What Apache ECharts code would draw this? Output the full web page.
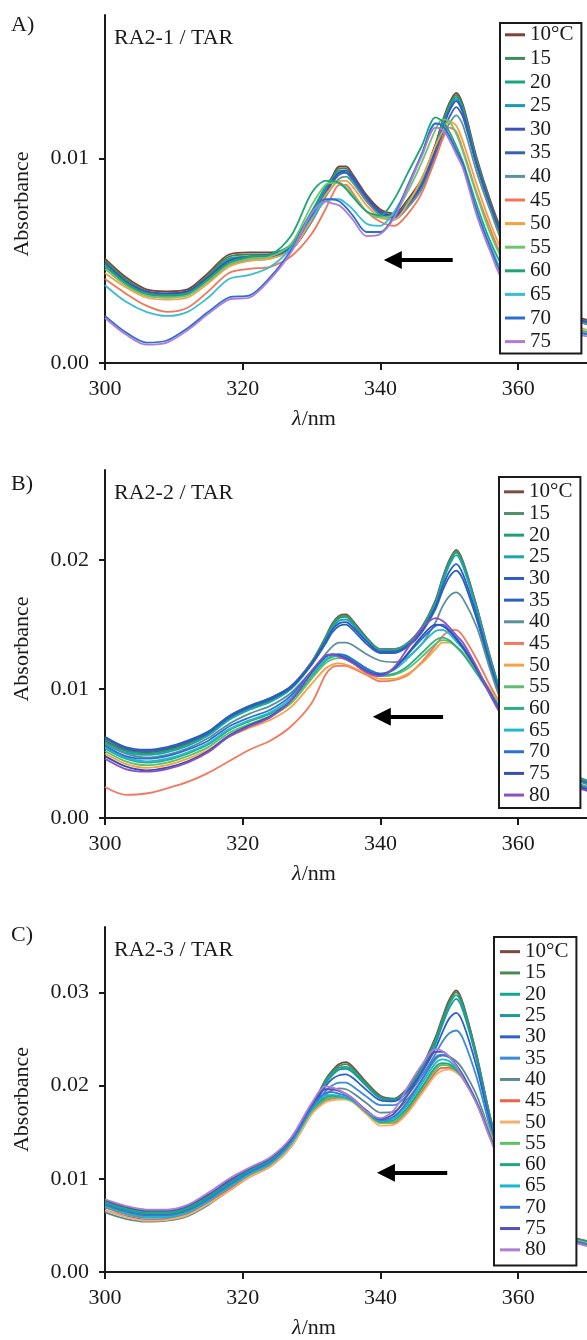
<!DOCTYPE html>
<html><head><meta charset="utf-8">
<script src="https://cdn.jsdelivr.net/npm/echarts@6/dist/echarts.min.js"></script>
<style>html,body{margin:0;padding:0;background:#fff;}#c{width:587px;height:1340px;}</style>
</head><body><div id="c"></div>
<script>
// wavelength grid (nm)
const wavelengths = [300,303,306,309,312,315,318,321,324,327,330,332,333,334,335,336,338,340,342,344,346,348,349,350,351,352,354,356,358,364,370];

const tempsA = ['10°C','15','20','25','30','35','40','45','50','55','60','65','70','75'];
const tempsB = ['10°C','15','20','25','30','35','40','45','50','55','60','65','70','75','80'];
const tempsC = ['10°C','15','20','25','30','35','40','45','50','55','60','65','70','75','80'];

// Panel A: RA2-1 / TAR  (one row per temperature)
const absA = [
 [0.0051,0.0042,0.0036,0.0035,0.0036,0.0044,0.0053,0.0054,0.0054,0.0057,0.0072,0.0085,0.0091,0.0096,0.0096,0.0092,0.0082,0.0075,0.0073,0.0080,0.0090,0.0107,0.0118,0.0127,0.0132,0.0126,0.0100,0.0079,0.0062,0.0030,0.0021],
 [0.0050,0.0041,0.0035,0.0034,0.0035,0.0043,0.0052,0.0053,0.0053,0.0057,0.0072,0.0085,0.0090,0.0095,0.0095,0.0091,0.0081,0.0074,0.0072,0.0079,0.0089,0.0106,0.0117,0.0126,0.0131,0.0125,0.0099,0.0078,0.0061,0.0029,0.0020],
 [0.0049,0.0040,0.0034,0.0033,0.0035,0.0042,0.0051,0.0052,0.0053,0.0058,0.0074,0.0086,0.0090,0.0094,0.0093,0.0089,0.0079,0.0073,0.0072,0.0079,0.0089,0.0106,0.0116,0.0125,0.0130,0.0124,0.0098,0.0077,0.0060,0.0029,0.0020],
 [0.0048,0.0040,0.0034,0.0033,0.0034,0.0041,0.0050,0.0052,0.0052,0.0057,0.0073,0.0085,0.0089,0.0093,0.0093,0.0089,0.0079,0.0073,0.0072,0.0078,0.0088,0.0105,0.0115,0.0124,0.0129,0.0123,0.0097,0.0076,0.0059,0.0028,0.0019],
 [0.0049,0.0040,0.0035,0.0034,0.0035,0.0042,0.0050,0.0052,0.0053,0.0056,0.0070,0.0083,0.0089,0.0093,0.0094,0.0091,0.0081,0.0074,0.0072,0.0078,0.0087,0.0104,0.0114,0.0123,0.0128,0.0122,0.0097,0.0077,0.0060,0.0029,0.0020],
 [0.0048,0.0039,0.0034,0.0033,0.0034,0.0041,0.0049,0.0051,0.0052,0.0055,0.0069,0.0082,0.0088,0.0092,0.0093,0.0090,0.0080,0.0073,0.0071,0.0077,0.0086,0.0102,0.0112,0.0120,0.0125,0.0120,0.0096,0.0076,0.0059,0.0028,0.0019],
 [0.0047,0.0039,0.0033,0.0032,0.0034,0.0040,0.0048,0.0050,0.0051,0.0055,0.0069,0.0081,0.0086,0.0090,0.0091,0.0088,0.0079,0.0072,0.0070,0.0076,0.0085,0.0100,0.0110,0.0117,0.0121,0.0116,0.0093,0.0074,0.0057,0.0027,0.0019],
 [0.0041,0.0034,0.0028,0.0025,0.0027,0.0035,0.0044,0.0046,0.0047,0.0052,0.0063,0.0075,0.0082,0.0087,0.0087,0.0083,0.0074,0.0069,0.0067,0.0073,0.0083,0.0100,0.0109,0.0115,0.0113,0.0104,0.0083,0.0065,0.0050,0.0024,0.0014],
 [0.0044,0.0037,0.0032,0.0031,0.0032,0.0039,0.0047,0.0050,0.0051,0.0055,0.0070,0.0082,0.0086,0.0089,0.0089,0.0086,0.0077,0.0071,0.0070,0.0078,0.0090,0.0106,0.0113,0.0118,0.0116,0.0108,0.0087,0.0068,0.0053,0.0026,0.0016],
 [0.0046,0.0038,0.0033,0.0032,0.0033,0.0040,0.0048,0.0051,0.0052,0.0058,0.0077,0.0087,0.0088,0.0088,0.0086,0.0082,0.0074,0.0071,0.0073,0.0084,0.0098,0.0114,0.0119,0.0118,0.0112,0.0103,0.0082,0.0063,0.0049,0.0023,0.0015],
 [0.0048,0.0039,0.0034,0.0033,0.0034,0.0041,0.0049,0.0052,0.0053,0.0062,0.0083,0.0089,0.0089,0.0088,0.0085,0.0081,0.0074,0.0072,0.0080,0.0093,0.0106,0.0120,0.0118,0.0113,0.0106,0.0098,0.0077,0.0059,0.0046,0.0022,0.0015],
 [0.0038,0.0030,0.0025,0.0023,0.0025,0.0032,0.0041,0.0043,0.0047,0.0056,0.0071,0.0079,0.0080,0.0080,0.0078,0.0075,0.0068,0.0067,0.0074,0.0086,0.0102,0.0117,0.0116,0.0110,0.0103,0.0096,0.0075,0.0057,0.0043,0.0021,0.0015],
 [0.0023,0.0015,0.0010,0.0011,0.0017,0.0025,0.0032,0.0033,0.0042,0.0055,0.0072,0.0080,0.0080,0.0079,0.0076,0.0072,0.0064,0.0064,0.0072,0.0087,0.0102,0.0117,0.0116,0.0111,0.0104,0.0097,0.0074,0.0056,0.0041,0.0020,0.0014],
 [0.0022,0.0014,0.0009,0.0010,0.0016,0.0024,0.0031,0.0032,0.0041,0.0054,0.0073,0.0079,0.0078,0.0077,0.0074,0.0070,0.0062,0.0063,0.0071,0.0086,0.0101,0.0115,0.0114,0.0109,0.0102,0.0095,0.0072,0.0054,0.0039,0.0019,0.0013]
];

// Panel B: RA2-2 / TAR
const absB = [
 [0.0060,0.0053,0.0051,0.0053,0.0058,0.0066,0.0078,0.0086,0.0092,0.0102,0.0121,0.0140,0.0151,0.0157,0.0158,0.0153,0.0140,0.0131,0.0131,0.0136,0.0148,0.0169,0.0186,0.0200,0.0208,0.0199,0.0164,0.0124,0.0092,0.0045,0.0029],
 [0.0061,0.0054,0.0052,0.0054,0.0059,0.0067,0.0079,0.0087,0.0093,0.0102,0.0121,0.0140,0.0150,0.0156,0.0157,0.0152,0.0139,0.0131,0.0131,0.0136,0.0148,0.0168,0.0185,0.0199,0.0207,0.0198,0.0163,0.0123,0.0092,0.0045,0.0029],
 [0.0059,0.0052,0.0050,0.0052,0.0057,0.0065,0.0077,0.0085,0.0091,0.0101,0.0120,0.0139,0.0149,0.0155,0.0156,0.0151,0.0139,0.0130,0.0130,0.0135,0.0147,0.0167,0.0184,0.0198,0.0206,0.0197,0.0162,0.0122,0.0091,0.0044,0.0028],
 [0.0058,0.0051,0.0049,0.0051,0.0056,0.0064,0.0076,0.0084,0.0090,0.0100,0.0119,0.0137,0.0147,0.0153,0.0154,0.0150,0.0138,0.0130,0.0130,0.0135,0.0146,0.0166,0.0182,0.0196,0.0204,0.0195,0.0161,0.0122,0.0091,0.0044,0.0028],
 [0.0063,0.0055,0.0053,0.0055,0.0060,0.0067,0.0079,0.0087,0.0093,0.0102,0.0120,0.0137,0.0146,0.0151,0.0152,0.0148,0.0137,0.0129,0.0129,0.0134,0.0145,0.0164,0.0179,0.0191,0.0197,0.0189,0.0157,0.0119,0.0089,0.0043,0.0027],
 [0.0062,0.0054,0.0052,0.0054,0.0059,0.0066,0.0078,0.0086,0.0092,0.0101,0.0119,0.0135,0.0144,0.0149,0.0150,0.0146,0.0135,0.0128,0.0128,0.0133,0.0144,0.0162,0.0176,0.0187,0.0192,0.0185,0.0154,0.0117,0.0088,0.0043,0.0027],
 [0.0057,0.0050,0.0047,0.0049,0.0054,0.0062,0.0073,0.0081,0.0087,0.0097,0.0114,0.0127,0.0133,0.0136,0.0136,0.0134,0.0127,0.0122,0.0121,0.0125,0.0135,0.0152,0.0164,0.0172,0.0175,0.0170,0.0148,0.0114,0.0086,0.0042,0.0026],
 [0.0024,0.0018,0.0019,0.0023,0.0028,0.0035,0.0044,0.0053,0.0060,0.0071,0.0089,0.0111,0.0117,0.0118,0.0118,0.0116,0.0111,0.0106,0.0107,0.0111,0.0121,0.0134,0.0141,0.0145,0.0146,0.0141,0.0123,0.0102,0.0084,0.0040,0.0024],
 [0.0050,0.0042,0.0039,0.0041,0.0046,0.0053,0.0063,0.0070,0.0076,0.0086,0.0104,0.0116,0.0119,0.0120,0.0119,0.0117,0.0112,0.0108,0.0108,0.0112,0.0120,0.0131,0.0136,0.0136,0.0133,0.0128,0.0114,0.0099,0.0084,0.0040,0.0024],
 [0.0052,0.0044,0.0041,0.0043,0.0048,0.0055,0.0066,0.0073,0.0079,0.0089,0.0108,0.0120,0.0123,0.0124,0.0123,0.0120,0.0114,0.0110,0.0111,0.0116,0.0125,0.0135,0.0138,0.0137,0.0133,0.0128,0.0113,0.0097,0.0082,0.0039,0.0024],
 [0.0054,0.0046,0.0043,0.0045,0.0050,0.0057,0.0068,0.0075,0.0081,0.0091,0.0110,0.0122,0.0125,0.0126,0.0125,0.0122,0.0115,0.0111,0.0112,0.0118,0.0128,0.0138,0.0140,0.0138,0.0133,0.0127,0.0112,0.0096,0.0081,0.0039,0.0024],
 [0.0055,0.0047,0.0044,0.0046,0.0051,0.0058,0.0069,0.0076,0.0082,0.0093,0.0112,0.0123,0.0126,0.0127,0.0126,0.0123,0.0116,0.0112,0.0115,0.0124,0.0135,0.0145,0.0146,0.0143,0.0137,0.0131,0.0115,0.0097,0.0080,0.0038,0.0023],
 [0.0056,0.0048,0.0046,0.0048,0.0053,0.0060,0.0071,0.0078,0.0084,0.0095,0.0114,0.0125,0.0127,0.0127,0.0126,0.0123,0.0116,0.0112,0.0116,0.0127,0.0139,0.0149,0.0150,0.0146,0.0140,0.0133,0.0116,0.0097,0.0079,0.0037,0.0023],
 [0.0048,0.0040,0.0037,0.0039,0.0044,0.0052,0.0064,0.0072,0.0079,0.0091,0.0113,0.0125,0.0127,0.0126,0.0124,0.0121,0.0114,0.0111,0.0116,0.0128,0.0141,0.0150,0.0149,0.0145,0.0139,0.0132,0.0115,0.0095,0.0077,0.0036,0.0022],
 [0.0046,0.0038,0.0036,0.0038,0.0043,0.0051,0.0063,0.0071,0.0078,0.0091,0.0114,0.0126,0.0127,0.0125,0.0123,0.0120,0.0113,0.0110,0.0117,0.0132,0.0147,0.0155,0.0153,0.0148,0.0142,0.0136,0.0117,0.0095,0.0076,0.0035,0.0021]
];

// Panel C: RA2-3 / TAR
const absC = [
 [0.0075,0.0068,0.0064,0.0064,0.0069,0.0081,0.0096,0.0109,0.0120,0.0141,0.0177,0.0206,0.0216,0.0223,0.0225,0.0220,0.0203,0.0189,0.0186,0.0198,0.0220,0.0252,0.0273,0.0292,0.0302,0.0288,0.0232,0.0165,0.0115,0.0050,0.0033],
 [0.0076,0.0069,0.0065,0.0065,0.0070,0.0082,0.0097,0.0110,0.0121,0.0142,0.0177,0.0205,0.0215,0.0221,0.0223,0.0218,0.0202,0.0188,0.0185,0.0197,0.0219,0.0250,0.0271,0.0290,0.0300,0.0286,0.0231,0.0164,0.0114,0.0050,0.0033],
 [0.0075,0.0068,0.0064,0.0064,0.0069,0.0081,0.0096,0.0109,0.0120,0.0141,0.0176,0.0204,0.0213,0.0219,0.0220,0.0216,0.0200,0.0187,0.0185,0.0196,0.0218,0.0248,0.0268,0.0287,0.0297,0.0284,0.0229,0.0163,0.0114,0.0049,0.0032],
 [0.0073,0.0066,0.0062,0.0062,0.0067,0.0079,0.0094,0.0107,0.0118,0.0139,0.0175,0.0202,0.0211,0.0217,0.0218,0.0214,0.0199,0.0186,0.0184,0.0195,0.0216,0.0245,0.0265,0.0283,0.0293,0.0280,0.0227,0.0162,0.0113,0.0049,0.0032],
 [0.0072,0.0065,0.0061,0.0061,0.0066,0.0078,0.0093,0.0106,0.0117,0.0138,0.0174,0.0199,0.0207,0.0211,0.0212,0.0208,0.0195,0.0184,0.0183,0.0194,0.0214,0.0240,0.0257,0.0272,0.0278,0.0267,0.0219,0.0158,0.0112,0.0048,0.0031],
 [0.0066,0.0060,0.0056,0.0057,0.0062,0.0074,0.0089,0.0103,0.0114,0.0135,0.0171,0.0194,0.0200,0.0203,0.0203,0.0199,0.0188,0.0179,0.0179,0.0191,0.0210,0.0234,0.0247,0.0256,0.0259,0.0250,0.0208,0.0153,0.0110,0.0047,0.0030],
 [0.0064,0.0057,0.0054,0.0055,0.0060,0.0072,0.0087,0.0102,0.0113,0.0134,0.0170,0.0190,0.0195,0.0197,0.0196,0.0192,0.0181,0.0171,0.0172,0.0186,0.0206,0.0228,0.0232,0.0231,0.0226,0.0217,0.0189,0.0148,0.0110,0.0047,0.0030],
 [0.0069,0.0062,0.0058,0.0058,0.0063,0.0075,0.0089,0.0103,0.0114,0.0135,0.0170,0.0184,0.0186,0.0187,0.0186,0.0183,0.0172,0.0160,0.0160,0.0173,0.0193,0.0214,0.0219,0.0219,0.0215,0.0207,0.0181,0.0146,0.0113,0.0048,0.0030],
 [0.0066,0.0059,0.0055,0.0056,0.0061,0.0073,0.0087,0.0102,0.0113,0.0134,0.0169,0.0182,0.0184,0.0185,0.0185,0.0182,0.0169,0.0157,0.0158,0.0171,0.0191,0.0211,0.0216,0.0217,0.0214,0.0207,0.0182,0.0148,0.0115,0.0049,0.0031],
 [0.0071,0.0064,0.0060,0.0060,0.0065,0.0077,0.0091,0.0105,0.0116,0.0137,0.0172,0.0185,0.0187,0.0187,0.0186,0.0183,0.0171,0.0160,0.0161,0.0175,0.0196,0.0217,0.0222,0.0221,0.0216,0.0208,0.0181,0.0146,0.0113,0.0048,0.0030],
 [0.0074,0.0067,0.0063,0.0063,0.0068,0.0080,0.0094,0.0107,0.0118,0.0139,0.0174,0.0187,0.0189,0.0188,0.0187,0.0184,0.0171,0.0161,0.0163,0.0177,0.0198,0.0220,0.0224,0.0223,0.0217,0.0208,0.0181,0.0145,0.0112,0.0048,0.0030],
 [0.0070,0.0063,0.0059,0.0059,0.0064,0.0076,0.0091,0.0105,0.0116,0.0138,0.0174,0.0189,0.0190,0.0189,0.0187,0.0184,0.0172,0.0162,0.0165,0.0180,0.0202,0.0224,0.0228,0.0226,0.0219,0.0209,0.0181,0.0144,0.0111,0.0047,0.0029],
 [0.0072,0.0065,0.0061,0.0061,0.0066,0.0078,0.0093,0.0107,0.0118,0.0140,0.0176,0.0192,0.0193,0.0191,0.0189,0.0185,0.0173,0.0163,0.0167,0.0183,0.0206,0.0230,0.0233,0.0230,0.0222,0.0211,0.0182,0.0144,0.0110,0.0047,0.0029],
 [0.0077,0.0070,0.0066,0.0066,0.0071,0.0083,0.0098,0.0111,0.0122,0.0143,0.0179,0.0196,0.0196,0.0194,0.0191,0.0186,0.0173,0.0164,0.0170,0.0190,0.0214,0.0236,0.0236,0.0231,0.0222,0.0210,0.0181,0.0143,0.0109,0.0046,0.0028],
 [0.0078,0.0071,0.0067,0.0067,0.0072,0.0085,0.0100,0.0112,0.0123,0.0144,0.0181,0.0199,0.0198,0.0195,0.0191,0.0186,0.0172,0.0165,0.0174,0.0199,0.0222,0.0239,0.0237,0.0231,0.0221,0.0208,0.0180,0.0142,0.0108,0.0045,0.0028]
];

const panelTitles = ['RA2-1 / TAR', 'RA2-2 / TAR', 'RA2-3 / TAR'];
const panelTags = ['A)', 'B)', 'C)'];
const yMaxes = [0.017, 0.027, 0.037];
const yTickValues = [[0, 0.01], [0, 0.01, 0.02], [0, 0.01, 0.02, 0.03]];
const xTickValues = [300, 320, 340, 360];
// arrow annotation: [tail nm, head nm, absorbance]
const arrowA = [350.5, 341.8, 0.00503];
const arrowB = [349.1, 340.2, 0.00786];
const arrowC = [349.7, 340.8, 0.01064];

// ---- styles (not data) ----
const colorsA = ['#7d4238','#3f8a5c','#16a684','#169cae','#3a52bf','#3363b4','#5b94a0','#f0765a','#f6a140','#6cc66c','#1fa476','#38bdd2','#2a6fd0','#b07ad6'];
const colorsB = ['#7a4c44','#50906c','#1fa072','#1aa6b0','#2c5cc6','#2c62b8','#5a909a','#f4785e','#f7a242','#5cc070','#2cae80','#22b8d0','#2a70d8','#3450b2','#8c50c2'];
const colorsC = ['#7a4840','#4a8a52','#12a894','#219898','#2c60cc','#3a8cd6','#5a8a92','#f06244','#f6ae6c','#60c062','#20a878','#14b8d0','#3a76d6','#5050c0','#b07ed2'];

const FONT = '"Liberation Serif","Times New Roman",serif';
const INK = '#1a1a1a';
const layout = [
  {top: 15,  h: 348, tagTop: 14,  legLeft: 500, legTop: 23,  lh: 23.6, pad: [0, 8, 0, 5],  namePad: [0, 30, 0, 0]},
  {top: 470, h: 348, tagTop: 473, legLeft: 499, legTop: 477, lh: 21.66, pad: [4, 8, 2, 5], namePad: [0, 10, 0, 0]},
  {top: 927, h: 346, tagTop: 924, legLeft: 494, legTop: 937, lh: 21.3, pad: [4, 8, 5, 6],  namePad: [0, 0, 0, 0]}
];
const panels = [
  {key: 'A', temps: tempsA, abs: absA, colors: colorsA, arrow: arrowA},
  {key: 'B', temps: tempsB, abs: absB, colors: colorsB, arrow: arrowB},
  {key: 'C', temps: tempsC, abs: absC, colors: colorsC, arrow: arrowC}
];

const option = {
  animation: false, backgroundColor: '#fff',
  grid: [], xAxis: [], yAxis: [], series: [], legend: [], title: []
};

panels.forEach((p, i) => {
  const L = layout[i];
  option.grid.push({left: 105, right: 0, top: L.top, height: L.h});
  option.xAxis.push({
    type: 'value', gridIndex: i, min: 300, max: 370, interval: 20,
    axisLine: {show: true, lineStyle: {color: INK, width: 2}},
    axisTick: {show: true, length: 7, customValues: xTickValues, lineStyle: {color: INK, width: 2}},
    axisLabel: {customValues: xTickValues, fontFamily: FONT, fontSize: 22, color: INK, margin: 15},
    splitLine: {show: false},
    name: '{i|λ}/nm', nameLocation: 'middle', nameGap: 45,
    nameTextStyle: {fontFamily: FONT, fontSize: 22, color: INK, padding: [0, 64, 0, 0],
      rich: {i: {fontFamily: FONT, fontSize: 22, fontStyle: 'italic', color: INK}}}
  });
  option.yAxis.push({
    type: 'value', gridIndex: i, min: 0, max: yMaxes[i], interval: 0.01,
    axisLine: {show: true, lineStyle: {color: INK, width: 2}},
    axisTick: {show: true, length: 6, customValues: yTickValues[i], lineStyle: {color: INK, width: 2}},
    axisLabel: {customValues: yTickValues[i], formatter: v => v.toFixed(2), fontFamily: FONT, fontSize: 22, color: INK, margin: 16},
    splitLine: {show: false},
    name: 'Absorbance', nameLocation: 'middle', nameRotate: 90, nameGap: 72,
    nameTextStyle: {fontFamily: FONT, fontSize: 22, color: INK, padding: L.namePad}
  });
  option.title.push({text: panelTags[i], left: 11, top: L.tagTop, padding: 0,
    textStyle: {fontFamily: FONT, fontSize: 22, fontWeight: 'normal', color: INK, lineHeight: 22}});
  option.title.push({text: panelTitles[i], left: 114, top: L.top + 12, padding: 0,
    textStyle: {fontFamily: FONT, fontSize: 22, fontWeight: 'normal', color: INK, lineHeight: 22}});
  option.legend.push({
    orient: 'vertical', left: L.legLeft, top: L.legTop, padding: L.pad, itemGap: 0,
    itemWidth: 20, itemHeight: 3, icon: 'rect', selectedMode: false,
    backgroundColor: '#fff', borderColor: INK, borderWidth: 2,
    data: p.temps.map(t => p.key + '|' + t),
    formatter: n => n.split('|')[1],
    textStyle: {fontFamily: FONT, fontSize: 21, color: INK, lineHeight: L.lh}
  });
  p.temps.forEach((t, j) => {
    const s = {
      type: 'line', name: p.key + '|' + t, xAxisIndex: i, yAxisIndex: i,
      data: wavelengths.map((w, k) => [w, p.abs[j][k]]),
      showSymbol: false, symbol: 'none', smooth: 0.3,
      lineStyle: {width: 1.8, color: p.colors[j]}, itemStyle: {color: p.colors[j]},
      emphasis: {disabled: true}
    };
    if (j === 0) {
      s.markLine = {
        silent: true, symbol: ['none', 'triangle'], symbolSize: [18, 18],
        lineStyle: {color: '#000', width: 4, type: 'solid'}, label: {show: false},
        emphasis: {disabled: true},
        data: [[{coord: [p.arrow[0], p.arrow[2]]}, {coord: [p.arrow[1], p.arrow[2]]}]]
      };
    }
    option.series.push(s);
  });
});

const chart = echarts.init(document.getElementById('c'), null, {renderer: 'canvas'});
chart.setOption(option);
</script>
</body></html>
